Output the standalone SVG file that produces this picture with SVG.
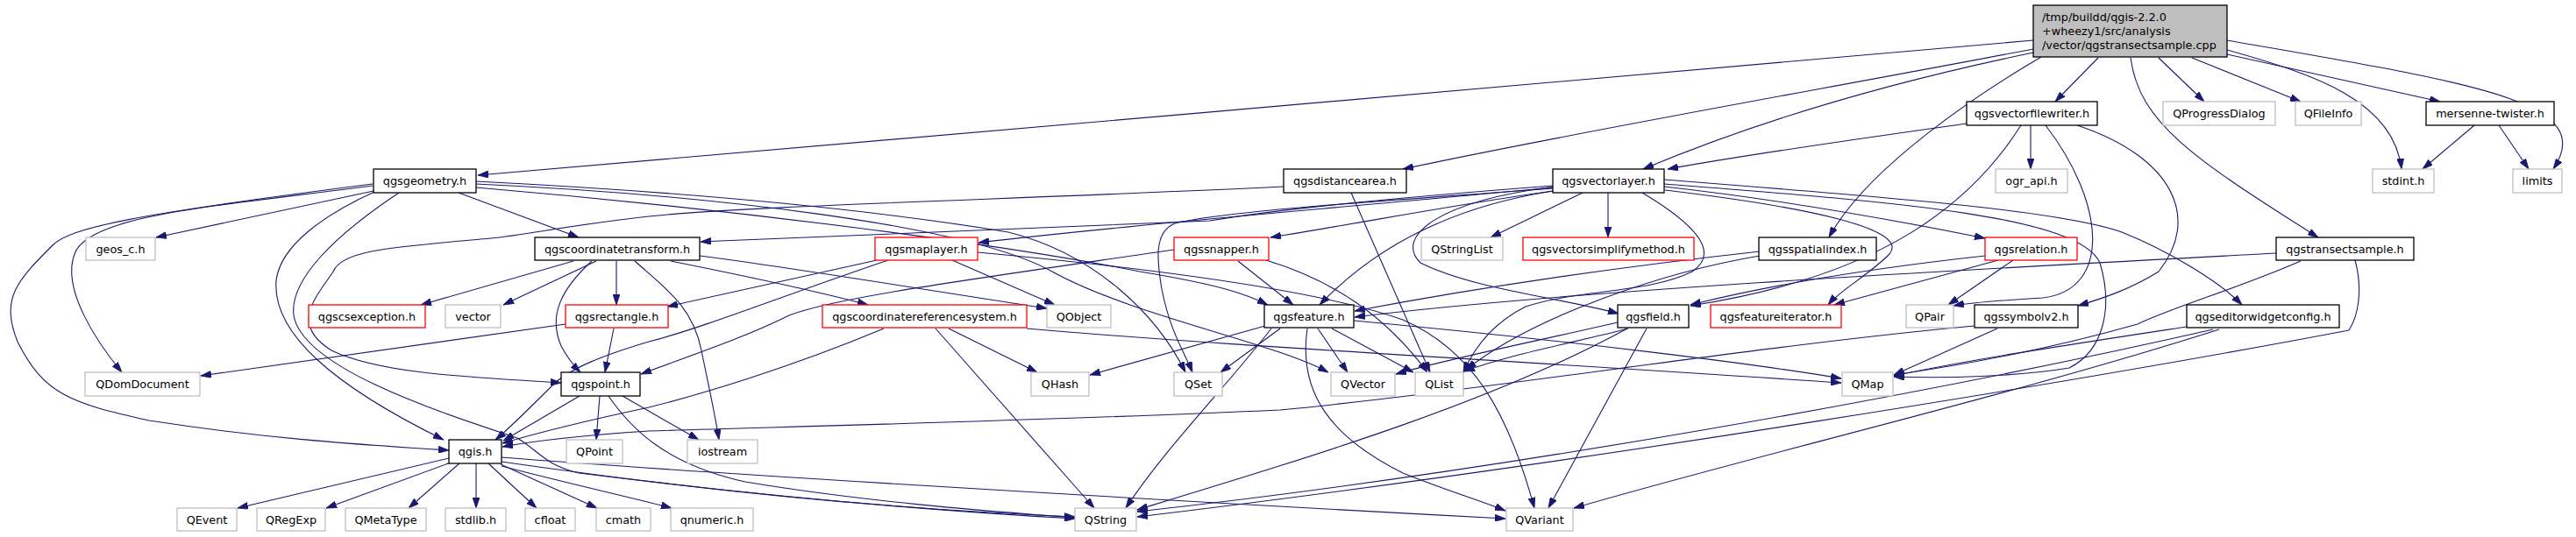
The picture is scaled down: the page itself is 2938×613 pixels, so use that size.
<svg xmlns="http://www.w3.org/2000/svg" width="2938" height="613" viewBox="0 0 2938 613">
<style>
.nd rect{fill:#fff;stroke:#000;stroke-width:1.3}
.gy rect{stroke:#bfbfbf}
.rd rect{stroke:#ff0000}
text{font-family:"DejaVu Sans",sans-serif;font-size:12.8px;text-anchor:middle;fill:#000}
#edges path{fill:none;stroke:#191970;stroke-width:1.1;marker-end:url(#a)}
</style>
<defs>
<marker id="a" viewBox="0 0 12 8" refX="12" refY="4" markerWidth="12" markerHeight="8" markerUnits="userSpaceOnUse" orient="auto">
<path d="M0,0 L12,4 L0,8 z" fill="#191970" stroke="#191970" stroke-width="0.8"/>
</marker>
</defs>
<rect width="2938" height="613" fill="#fff"/>
<g id="edges">
<path d="M2319,46 C1800,92 1100,152 545,200"/>
<path d="M2319,56 C2100,98 1800,150 1600,193"/>
<path d="M2319,60 C2150,95 2000,140 1874,193"/>
<path d="M2243,141 C2130,157 2000,175 1902,193"/>
<path d="M2328,65 C2260,105 2130,190 2086,271"/>
<path d="M2393,66 L2344,116"/>
<path d="M2462,66 L2514,116"/>
<path d="M2500,66 L2624,116"/>
<path d="M2540,62 L2783,116"/>
<path d="M2540,57 C2640,85 2730,115 2739,193"/>
<path d="M2540,46 C2820,95 2965,115 2912,193"/>
<path d="M2430,66 C2440,140 2500,180 2644,271"/>
<path d="M2822,143 L2763,193"/>
<path d="M2850,143 L2884,193"/>
<path d="M2316,143 L2316,193"/>
<path d="M2305,143 C2250,230 2150,315 1928,349"/>
<path d="M2333,143 C2400,230 2410,330 2330,340 C2280,343 2250,345 2228,349"/>
<path d="M2369,143 C2480,180 2510,250 2462,310 C2430,330 2400,340 2370,349"/>
<path d="M426,218 L178,271"/>
<path d="M523,220 L660,271"/>
<path d="M425,212 C250,235 100,245 85,290 C70,330 110,390 139,425"/>
<path d="M425,210 C150,245 80,260 60,280 C20,320 0,340 20,390 C50,450 80,460 170,480 C300,500 400,507 512,514"/>
<path d="M427,219 C370,245 320,280 315,320 C310,380 380,440 506,502"/>
<path d="M455,220 C380,270 330,320 335,360 C345,420 500,470 590,500 C615,515 620,530 660,540 C900,570 1100,585 1226,592"/>
<path d="M543,207 C800,220 1000,240 1150,265 C1250,290 1320,360 1352,425"/>
<path d="M543,210 C800,222 1100,255 1200,310 C1290,360 1450,390 1515,425"/>
<path d="M543,214 C850,240 1150,280 1300,310 C1390,325 1420,335 1446,348"/>
<path d="M654,298 L480,348"/>
<path d="M680,298 L574,348"/>
<path d="M675,298 C640,330 625,360 640,395 C648,410 655,418 662,425"/>
<path d="M703,298 L703,348"/>
<path d="M724,298 C760,330 790,350 800,400 C808,440 815,470 820,502"/>
<path d="M798,292 C900,305 1050,330 1194,352"/>
<path d="M765,298 C850,315 930,332 990,348"/>
<path d="M1464,213 C1150,228 850,235 740,247 C650,257 600,268 560,272 C450,282 390,285 380,310 C360,340 330,370 378,400 C430,425 520,430 640,437"/>
<path d="M1541,220 L1631,425"/>
<path d="M1771,212 C1600,225 1450,240 1380,252 C1100,262 950,268 799,276"/>
<path d="M1771,214 C1500,240 1300,255 1116,277"/>
<path d="M1771,218 C1650,235 1550,255 1449,271"/>
<path d="M1805,220 L1700,271"/>
<path d="M1834,220 L1834,271"/>
<path d="M1772,218 C1660,235 1570,280 1505,348"/>
<path d="M1773,213 C1640,230 1590,270 1620,300 C1680,330 1780,340 1846,358"/>
<path d="M1898,213 C2050,230 2180,255 2264,272"/>
<path d="M1899,217 C2050,235 2180,260 2155,290 C2130,315 2100,330 2085,348"/>
<path d="M1771,215 C1600,228 1400,240 1340,255 C1315,265 1320,300 1325,330 C1335,380 1350,400 1360,425"/>
<path d="M1873,220 C1940,260 1960,290 1930,310 C1880,335 1800,330 1740,350 C1700,370 1680,400 1669,425"/>
<path d="M1898,210 C2150,230 2370,245 2395,300 C2410,350 2400,400 2360,420 C2300,430 2220,432 2160,430"/>
<path d="M1898,205 C2150,225 2350,240 2420,265 C2470,285 2530,320 2557,348"/>
<path d="M1013,297 C900,335 800,375 740,390 C690,405 650,420 630,440 C600,470 580,490 565,502"/>
<path d="M1000,297 L761,350"/>
<path d="M1086,297 L1203,348"/>
<path d="M1115,288 C1300,305 1500,330 1600,365 C1680,400 1720,470 1750,580"/>
<path d="M1339,285 C1100,320 950,340 900,360 C850,385 790,405 731,427"/>
<path d="M1412,298 L1475,348"/>
<path d="M1444,297 C1520,320 1580,360 1628,425"/>
<path d="M2007,287 C1800,310 1650,335 1545,355"/>
<path d="M2007,292 C1900,310 1750,360 1672,422"/>
<path d="M2264,292 C2100,310 2000,330 1928,348"/>
<path d="M2279,297 L2092,348"/>
<path d="M2296,297 L2222,348"/>
<path d="M2596,289 C2300,305 1800,330 1545,362"/>
<path d="M2624,298 C2550,330 2480,350 2438,370 C2350,395 2250,415 2160,428"/>
<path d="M2686,297 C2695,330 2690,360 2679,377 C2400,430 1800,530 1297,590"/>
<path d="M1008,375 C900,420 800,450 740,465 C670,480 610,495 573,506"/>
<path d="M1082,375 L1183,425"/>
<path d="M1067,375 L1248,580"/>
<path d="M1171,375 C1400,395 1700,410 2100,437"/>
<path d="M645,370 L229,429"/>
<path d="M700,375 L690,425"/>
<path d="M1443,372 L1243,428"/>
<path d="M1460,375 L1392,425"/>
<path d="M1503,375 L1537,425"/>
<path d="M1519,375 L1612,425"/>
<path d="M1544,366 C1800,390 2000,415 2100,432"/>
<path d="M1491,375 C1480,450 1520,500 1600,540 C1650,560 1690,572 1717,583"/>
<path d="M1450,375 C1400,440 1330,510 1284,580"/>
<path d="M1845,368 C1750,390 1650,410 1592,427"/>
<path d="M1857,375 C1800,390 1720,405 1670,424"/>
<path d="M1878,375 L1766,580"/>
<path d="M1856,375 C1700,460 1500,520 1297,582"/>
<path d="M2252,372 C2000,395 1700,445 1460,468 C1200,480 900,487 740,492 C650,498 600,505 573,510"/>
<path d="M2278,375 L2160,428"/>
<path d="M2494,373 C2350,395 2250,410 2160,429"/>
<path d="M2524,376 C2200,450 1700,540 1297,584"/>
<path d="M2531,376 C2300,450 2000,520 1795,580"/>
<path d="M661,452 L574,503"/>
<path d="M684,452 L680,502"/>
<path d="M710,452 L797,502"/>
<path d="M694,452 C720,490 760,530 850,550 C1000,575 1150,585 1226,591"/>
<path d="M512,523 L271,580"/>
<path d="M514,528 L372,580"/>
<path d="M524,529 L466,580"/>
<path d="M543,529 L543,580"/>
<path d="M557,529 L612,580"/>
<path d="M571,530 L681,580"/>
<path d="M572,532 C660,555 730,570 766,580"/>
<path d="M572,527 C800,560 1000,580 1226,590"/>
<path d="M572,522 C800,540 1300,570 1717,592"/>
</g>
<g id="main" class="nd"><rect x="2319" y="6" width="221" height="59" style="fill:#bfbfbf"/><text x="2329" y="24" style="text-anchor:start">/tmp/buildd/qgis-2.2.0</text><text x="2329" y="40" style="text-anchor:start">+wheezy1/src/analysis</text><text x="2329" y="56" style="text-anchor:start">/vector/qgstransectsample.cpp</text></g>
<g id="qgsgeometry" class="nd"><rect x="426" y="193" width="117" height="27"/><text x="484.5" y="211">qgsgeometry.h</text></g>
<g id="qgsdistancearea" class="nd"><rect x="1464" y="193" width="140" height="27"/><text x="1534" y="211">qgsdistancearea.h</text></g>
<g id="qgsvectorlayer" class="nd"><rect x="1771" y="193" width="127" height="27"/><text x="1834.5" y="211">qgsvectorlayer.h</text></g>
<g id="qgsvectorfilewriter" class="nd"><rect x="2243" y="116" width="149" height="27"/><text x="2317.5" y="134">qgsvectorfilewriter.h</text></g>
<g id="QProgressDialog" class="nd gy"><rect x="2467" y="116" width="128" height="27"/><text x="2531" y="134">QProgressDialog</text></g>
<g id="QFileInfo" class="nd gy"><rect x="2618" y="116" width="75" height="27"/><text x="2655.5" y="134">QFileInfo</text></g>
<g id="mersenne" class="nd"><rect x="2767" y="116" width="146" height="27"/><text x="2840" y="134">mersenne-twister.h</text></g>
<g id="ogr_api" class="nd gy"><rect x="2276" y="193" width="82" height="27"/><text x="2317" y="211">ogr_api.h</text></g>
<g id="stdint" class="nd gy"><rect x="2706" y="193" width="70" height="27"/><text x="2741" y="211">stdint.h</text></g>
<g id="limits" class="nd gy"><rect x="2866" y="193" width="56" height="27"/><text x="2894" y="211">limits</text></g>
<g id="geos_c" class="nd gy"><rect x="98" y="271" width="79" height="26"/><text x="137.5" y="288.5">geos_c.h</text></g>
<g id="qgscoordinatetransform" class="nd"><rect x="610" y="271" width="188" height="26"/><text x="704" y="288.5">qgscoordinatetransform.h</text></g>
<g id="qgsmaplayer" class="nd rd"><rect x="998" y="271" width="117" height="26"/><text x="1056.5" y="288.5">qgsmaplayer.h</text></g>
<g id="qgssnapper" class="nd rd"><rect x="1339" y="271" width="108" height="26"/><text x="1393" y="288.5">qgssnapper.h</text></g>
<g id="QStringList" class="nd gy"><rect x="1621" y="271" width="93" height="26"/><text x="1667.5" y="288.5">QStringList</text></g>
<g id="qgsvectorsimplifymethod" class="nd rd"><rect x="1737" y="271" width="195" height="26"/><text x="1834.5" y="288.5">qgsvectorsimplifymethod.h</text></g>
<g id="qgsspatialindex" class="nd"><rect x="2006" y="271" width="134" height="26"/><text x="2073" y="288.5">qgsspatialindex.h</text></g>
<g id="qgsrelation" class="nd rd"><rect x="2264" y="271" width="105" height="26"/><text x="2316.5" y="288.5">qgsrelation.h</text></g>
<g id="qgstransectsample" class="nd"><rect x="2596" y="271" width="157" height="26"/><text x="2674.5" y="288.5">qgstransectsample.h</text></g>
<g id="qgscsexception" class="nd rd"><rect x="352" y="348" width="133" height="26"/><text x="418.5" y="365.5">qgscsexception.h</text></g>
<g id="vector" class="nd gy"><rect x="508" y="348" width="63" height="26"/><text x="539.5" y="365.5">vector</text></g>
<g id="qgsrectangle" class="nd rd"><rect x="645" y="348" width="117" height="26"/><text x="703.5" y="365.5">qgsrectangle.h</text></g>
<g id="qgscoordinatereferencesystem" class="nd rd"><rect x="938" y="348" width="233" height="26"/><text x="1054.5" y="365.5">qgscoordinatereferencesystem.h</text></g>
<g id="QObject" class="nd gy"><rect x="1194" y="348" width="73" height="26"/><text x="1230.5" y="365.5">QObject</text></g>
<g id="qgsfeature" class="nd"><rect x="1442" y="348" width="102" height="26"/><text x="1493" y="365.5">qgsfeature.h</text></g>
<g id="qgsfield" class="nd"><rect x="1845" y="348" width="81" height="26"/><text x="1885.5" y="365.5">qgsfield.h</text></g>
<g id="qgsfeatureiterator" class="nd rd"><rect x="1951" y="348" width="149" height="26"/><text x="2025.5" y="365.5">qgsfeatureiterator.h</text></g>
<g id="QPair" class="nd gy"><rect x="2174" y="348" width="54" height="26"/><text x="2201" y="365.5">QPair</text></g>
<g id="qgssymbolv2" class="nd"><rect x="2252" y="348" width="118" height="26"/><text x="2311" y="365.5">qgssymbolv2.h</text></g>
<g id="qgseditorwidgetconfig" class="nd"><rect x="2494" y="348" width="174" height="26"/><text x="2581" y="365.5">qgseditorwidgetconfig.h</text></g>
<g id="QDomDocument" class="nd gy"><rect x="97" y="425" width="131" height="27"/><text x="162.5" y="443">QDomDocument</text></g>
<g id="qgspoint" class="nd"><rect x="640" y="425" width="90" height="27"/><text x="685" y="443">qgspoint.h</text></g>
<g id="QHash" class="nd gy"><rect x="1176" y="425" width="66" height="27"/><text x="1209" y="443">QHash</text></g>
<g id="QSet" class="nd gy"><rect x="1339" y="425" width="55" height="27"/><text x="1366.5" y="443">QSet</text></g>
<g id="QVector" class="nd gy"><rect x="1518" y="425" width="73" height="27"/><text x="1554.5" y="443">QVector</text></g>
<g id="QList" class="nd gy"><rect x="1614" y="425" width="55" height="27"/><text x="1641.5" y="443">QList</text></g>
<g id="QMap" class="nd gy"><rect x="2101" y="425" width="58" height="27"/><text x="2130" y="443">QMap</text></g>
<g id="qgis" class="nd"><rect x="512" y="502" width="60" height="27"/><text x="542" y="520">qgis.h</text></g>
<g id="QPoint" class="nd gy"><rect x="646" y="502" width="64" height="27"/><text x="678" y="520">QPoint</text></g>
<g id="iostream" class="nd gy"><rect x="784" y="502" width="80" height="27"/><text x="824" y="520">iostream</text></g>
<g id="QEvent" class="nd gy"><rect x="202" y="580" width="68" height="26"/><text x="236" y="597.5">QEvent</text></g>
<g id="QRegExp" class="nd gy"><rect x="293" y="580" width="78" height="26"/><text x="332" y="597.5">QRegExp</text></g>
<g id="QMetaType" class="nd gy"><rect x="394" y="580" width="92" height="26"/><text x="440" y="597.5">QMetaType</text></g>
<g id="stdlib" class="nd gy"><rect x="508" y="580" width="69" height="26"/><text x="542.5" y="597.5">stdlib.h</text></g>
<g id="cfloat" class="nd gy"><rect x="599" y="580" width="57" height="26"/><text x="627.5" y="597.5">cfloat</text></g>
<g id="cmath" class="nd gy"><rect x="680" y="580" width="62" height="26"/><text x="711" y="597.5">cmath</text></g>
<g id="qnumeric" class="nd gy"><rect x="765" y="580" width="94" height="26"/><text x="812" y="597.5">qnumeric.h</text></g>
<g id="QString" class="nd gy"><rect x="1226" y="580" width="70" height="26"/><text x="1261" y="597.5">QString</text></g>
<g id="QVariant" class="nd gy"><rect x="1718" y="580" width="76" height="26"/><text x="1756" y="597.5">QVariant</text></g>
</svg>
